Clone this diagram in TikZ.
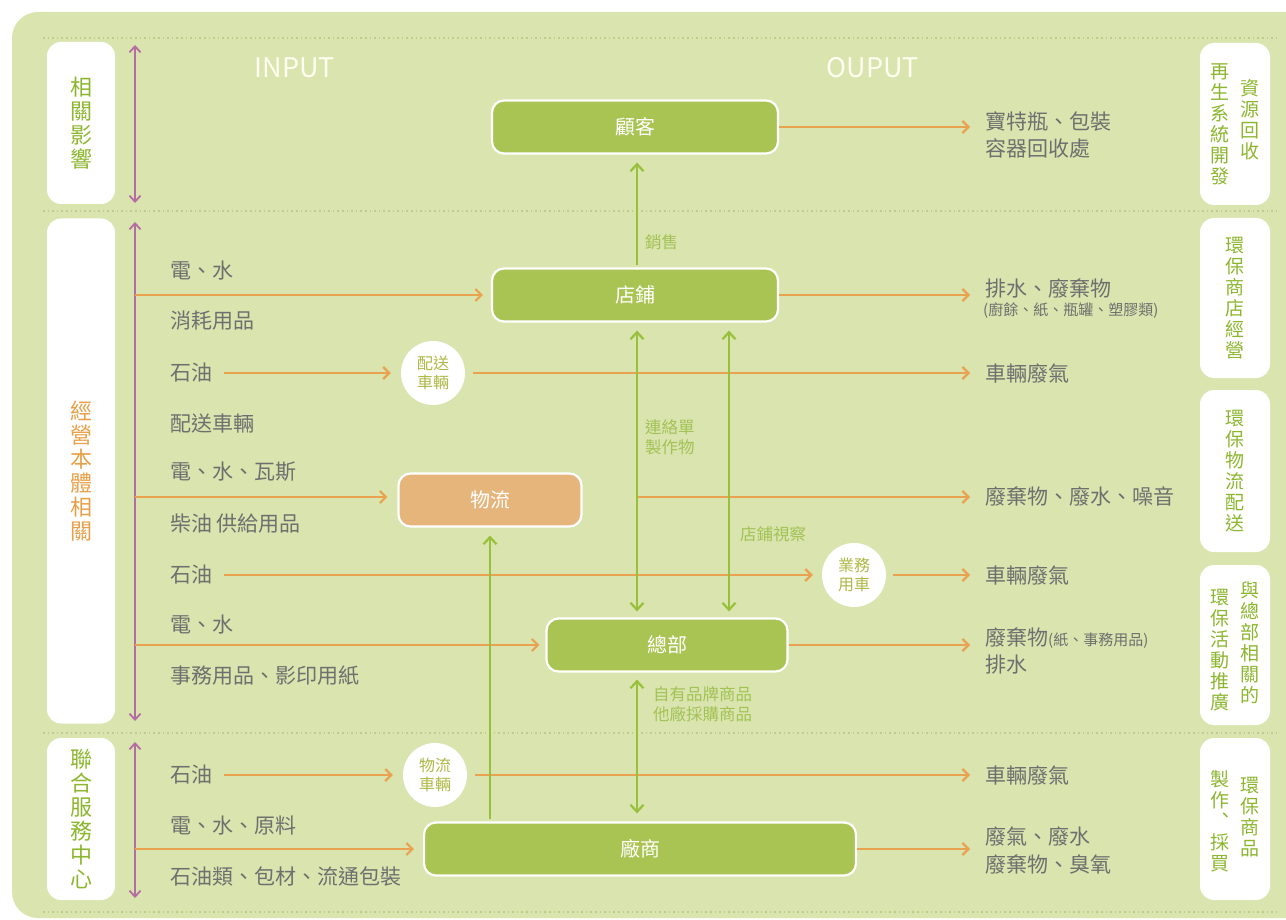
\documentclass[tikz,border=0pt]{standalone}
\usepackage{fontspec}
\setmainfont{Noto Sans CJK TC}
\usetikzlibrary{arrows.meta}
\definecolor{bg}{HTML}{D9E4AE}
\definecolor{dotc}{HTML}{BCCC8A}
\definecolor{boxg}{HTML}{A9C453}
\definecolor{boxo}{HTML}{E6B57C}
\definecolor{org}{HTML}{E9A24F}
\definecolor{grn}{HTML}{98C03A}
\definecolor{pur}{HTML}{B46CA4}
\definecolor{gtxt}{HTML}{6F6F6F}
\definecolor{lgtxt}{HTML}{A3C255}
\definecolor{ctxt}{HTML}{AEB845}
\definecolor{sideg}{HTML}{8DB62F}
\definecolor{sideo}{HTML}{E8A048}
\begin{document}
\begin{tikzpicture}[x=1pt,y=-1pt,
  panel/.style={rectangle, fill=white, rounded corners=14pt, draw=none, inner sep=0, align=center},
  sidetxt/.style={font=\fontsize{22}{24}\selectfont},
  rtxt/.style={text=sideg, font=\fontsize{19}{21}\selectfont, align=center, inner sep=0},
  box/.style={rectangle, rounded corners=12pt, fill=boxg, draw=white, line width=2.2pt, text=white, font=\fontsize{20}{24}\selectfont, minimum height=53pt, inner sep=0},
  circ/.style={circle, fill=white, minimum size=64pt, inner sep=0, text=ctxt, font=\fontsize{16}{19}\selectfont, align=center},
  intxt/.style={anchor=west, text=gtxt, font=\fontsize{21}{25}\selectfont, inner sep=0},
  smalltxt/.style={anchor=west, text=gtxt, font=\fontsize{15}{17}\selectfont, inner sep=0},
  lbl/.style={anchor=west, text=lgtxt, font=\fontsize{16.5}{20}\selectfont, inner sep=0, align=left},
  hdr/.style={text=white!94!yellow, font=\fontsize{27}{30}\selectfont},
  dotline/.style={draw=dotc, line width=1.6pt, dash pattern=on 1.6pt off 3pt},
  oarr/.style={draw=org, line width=2.2pt, -{Straight Barb[length=6pt,width=12pt]}},
  garr/.style={draw=grn, line width=2.2pt, -{Straight Barb[length=7pt,width=13pt]}},
  gdarr/.style={draw=grn, line width=2.2pt, {Straight Barb[length=7pt,width=13pt]}-{Straight Barb[length=7pt,width=13pt]}},
  parr/.style={draw=pur, line width=1.8pt, {Straight Barb[length=6pt,width=11pt]}-{Straight Barb[length=6pt,width=11pt]}}
]
\useasboundingbox (0,0) rectangle (1286,920);
\begin{scope}
\clip (0,0) rectangle (1286,920);
\fill[bg, rounded corners=26pt] (12,12) rectangle (1340,918);
\end{scope}

% dotted separators
\foreach \yy in {38,211,733,912} \draw[dotline] (43,\yy) -- (1276,\yy);

% headers
\node[hdr] (hin) at (295,68) {INPUT};
\node[hdr] (hout) at (873,68) {OUPUT};

% left panels
\node[panel, sidetxt, text=sideg, minimum width=68pt, minimum height=162pt] (lp1) at (81,123) {相\\關\\影\\響};
\node[panel, sidetxt, text=sideo, minimum width=68pt, minimum height=505pt] (lp2) at (81,471) {經\\營\\本\\體\\相\\關};
\node[panel, sidetxt, text=sideg, minimum width=68pt, minimum height=162pt] (lp3) at (81,819) {聯\\合\\服\\務\\中\\心};

% right panels
\node[panel, minimum width=70pt, minimum height=162pt] (rp1) at (1235,124) {};
\node[rtxt] (rp1a) at (1250,120) {資\\源\\回\\收};
\node[rtxt] (rp1b) at (1220,124) {再\\生\\系\\統\\開\\發};
\node[panel, minimum width=70pt, minimum height=160pt] (rp2) at (1235,298) {};
\node[rtxt] (rp2a) at (1235,298) {環\\保\\商\\店\\經\\營};
\node[panel, minimum width=70pt, minimum height=162pt] (rp3) at (1235,471) {};
\node[rtxt] (rp3a) at (1235,471) {環\\保\\物\\流\\配\\送};
\node[panel, minimum width=70pt, minimum height=160pt] (rp4) at (1235,645) {};
\node[rtxt] (rp4a) at (1250,643) {與\\總\\部\\相\\關\\的};
\node[rtxt] (rp4b) at (1220,650) {環\\保\\活\\動\\推\\廣};
\node[panel, minimum width=70pt, minimum height=162pt] (rp5) at (1235,819) {};
\node[rtxt] (rp5a) at (1250,817) {環\\保\\商\\品};
\node[rtxt] (rp5b) at (1220,821) {製\\作\\︑\\採\\買};

% purple range arrows
\coordinate (p1t) at (135,45);  \coordinate (p1b) at (135,203);
\coordinate (p2t) at (135,222); \coordinate (p2b) at (135,721);
\coordinate (p3t) at (135,742); \coordinate (p3b) at (135,898);
\draw[parr] (p1t) -- (p1b);
\draw[parr] (p2t) -- (p2b);
\draw[parr] (p3t) -- (p3b);

% central boxes
\node[box, minimum width=286pt] (guke) at (635,127) {顧客};
\node[box, minimum width=286pt] (dianpu) at (635,295) {店鋪};
\node[box, fill=boxo, minimum width=183pt] (wuliu) at (490,500) {物流};
\node[box, minimum width=241pt] (zongbu) at (667,645) {總部};
\node[box, minimum width=432pt] (chang) at (640,849) {廠商};

% circles
\node[circ] (c1) at (433,373) {配送\\車輛};
\node[circ] (c2) at (854,575) {業務\\用車};
\node[circ] (c3) at (435,775) {物流\\車輛};

% input texts
\node[intxt] (i1) at (170,271) {電、水};
\node[intxt] (i2) at (170,321) {消耗用品};
\node[intxt] (oil1) at (170,373) {石油};
\node[intxt] (i4) at (170,424) {配送車輛};
\node[intxt] (i5) at (170,472) {電、水、瓦斯};
\node[intxt] (i6) at (170,524) {柴油 供給用品};
\node[intxt] (oil2) at (170,575) {石油};
\node[intxt] (i8) at (170,625) {電、水};
\node[intxt] (i9) at (170,676) {事務用品、影印用紙};
\node[intxt] (oil3) at (170,775) {石油};
\node[intxt] (i11) at (170,826) {電、水、原料};
\node[intxt] (i12) at (170,877) {石油類、包材、流通包裝};

% output texts
\node[intxt] (o1a) at (985,121) {寶特瓶、包裝};
\node[intxt] (o1b) at (985,148) {容器回收處};
\node[intxt] (o2a) at (985,288) {排水、廢棄物};
\node[smalltxt] (o2b) at (983,311) {(廚餘、紙、瓶罐、塑膠類)};
\node[intxt] (o3) at (985,373) {車輛廢氣};
\node[intxt] (o4) at (985,496) {廢棄物、廢水、噪音};
\node[intxt] (o5) at (985,575) {車輛廢氣};
\node[intxt] (o6a) at (985,638) {廢棄物{\fontsize{15}{17}\selectfont (紙、事務用品)}};
\node[intxt] (o6b) at (985,665) {排水};
\node[intxt] (o7) at (985,775) {車輛廢氣};
\node[intxt] (o8a) at (985,836) {廢氣、廢水};
\node[intxt] (o8b) at (985,864) {廢棄物、臭氧};

% input arrows
\coordinate (s1) at (135,295);
\coordinate (s2) at (135,497);
\coordinate (s3) at (135,645);
\coordinate (s4) at (135,849);
\draw[oarr, shorten >=8pt] (s1) -- (dianpu.west);
\draw[oarr, shorten >=10pt] (s2) -- (s2 -| wuliu.west);
\draw[oarr, shorten >=6pt] (s3) -- (zongbu.west);
\draw[oarr, shorten >=9pt] (s4) -- (chang.west);
\draw[oarr, shorten <=12pt, shorten >=10pt] (oil1.east) -- (c1.west);
\draw[oarr, shorten <=12pt, shorten >=9pt] (oil2.east) -- (c2.west);
\draw[oarr, shorten <=12pt, shorten >=10pt] (oil3.east) -- (c3.west);

% output arrows
\draw[oarr, shorten >=15pt] (guke.east) -- (guke.east -| o1a.west);
\draw[oarr, shorten >=15pt] (dianpu.east) -- (dianpu.east -| o2a.west);
\draw[oarr, shorten <=8pt, shorten >=15pt] (c1.east) -- (o3.west);
\coordinate (a1) at (637,0);
\coordinate (a2) at (729,0);
\coordinate (j1) at (637,497);
\draw[oarr, shorten >=15pt] (j1) -- (j1 -| o4.west);
\draw[oarr, shorten <=7pt, shorten >=15pt] (c2.east) -- (o5.west);
\draw[oarr, shorten >=15pt] (zongbu.east) -- (zongbu.east -| o6a.west);
\draw[oarr, shorten <=8pt, shorten >=15pt] (c3.east) -- (o7.west);
\draw[oarr, shorten >=15pt] (chang.east) -- (chang.east -| o8a.west);

% green flows
\draw[garr, shorten <=2pt, shorten >=8pt] (a1 |- dianpu.north) -- (a1 |- guke.south);
\draw[gdarr, shorten <=8pt, shorten >=6pt] (a1 |- dianpu.south) -- (a1 |- zongbu.north);
\draw[gdarr, shorten <=8pt, shorten >=6pt] (a2 |- dianpu.south) -- (a2 |- zongbu.north);
\draw[gdarr, shorten <=7pt, shorten >=8pt] (a1 |- zongbu.south) -- (a1 |- chang.north);
\draw[garr, shorten <=2pt, shorten >=8pt] (chang.north -| wuliu.south) -- (wuliu.south);

% green labels
\node[lbl] (l1) at (645,242) {銷售};
\node[lbl] (l2) at (645,437) {連絡單\\製作物};
\node[lbl] (l3) at (740,534) {店鋪視察};
\node[lbl] (l4) at (653,704) {自有品牌商品\\他廠採購商品};
\end{tikzpicture}
\end{document}
